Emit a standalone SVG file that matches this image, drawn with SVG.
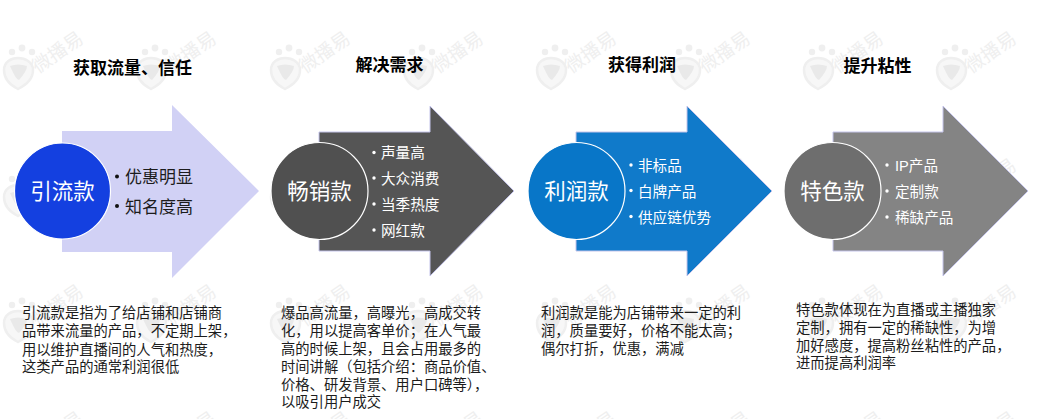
<svg xmlns="http://www.w3.org/2000/svg" width="1040" height="419" viewBox="0 0 1040 419">
<style>
text{font-family:"Liberation Sans","Noto Sans CJK SC",sans-serif}
.h{font-size:17px;font-weight:700;fill:#000;text-anchor:middle}
.c{font-size:21.5px;fill:#fff;text-anchor:middle}
.ln{stroke:#fff;stroke-width:1.2}
.b{font-size:14.3px;fill:#1c1c1c}
.w{font-size:14.6px;fill:#fff}
.k{font-size:17px;fill:#1c1c1c}
.wm{fill:#efefef}
.wt{font-size:19px;fill:#efefef}
.ar{stroke:#c4c4ea;stroke-width:1;fill-opacity:.97}
</style>
<defs>
<g id="mark">
<circle class="wm" cx="12" cy="52" r="3.200"/><circle class="wm" cx="22" cy="48" r="3.400"/><circle class="wm" cx="32" cy="52" r="3.200"/>
<path d="M4 70C4 62 11 58 18 58C25 58 33 62 33 70C33 79 26 85 18 89C10 85 4 79 4 70Z" fill="#f7f7f7" stroke="#efefef" stroke-width="2.500"/>
<path d="M10 66Q18 63 27 66Q27 71 19 80Q16 80 10 66Z" fill="#e9e9e9"/>
<text class="wt" x="38" y="74" transform="rotate(-35 38 74)">微播易</text>
</g>
</defs>
<rect width="1040" height="419" fill="#fff"/>
<g id="watermarks">
<use href="#mark" x="0" y="0"/><use href="#mark" x="133" y="0"/><use href="#mark" x="267" y="0"/><use href="#mark" x="400" y="0"/><use href="#mark" x="533" y="0"/><use href="#mark" x="667" y="0"/><use href="#mark" x="800" y="0"/><use href="#mark" x="933" y="0"/>
<use href="#mark" x="0" y="127"/><use href="#mark" x="133" y="127"/><use href="#mark" x="267" y="127"/><use href="#mark" x="400" y="127"/><use href="#mark" x="533" y="127"/><use href="#mark" x="667" y="127"/><use href="#mark" x="800" y="127"/><use href="#mark" x="933" y="127"/>
<use href="#mark" x="0" y="253"/><use href="#mark" x="133" y="253"/><use href="#mark" x="267" y="253"/><use href="#mark" x="400" y="253"/><use href="#mark" x="533" y="253"/><use href="#mark" x="667" y="253"/><use href="#mark" x="800" y="253"/><use href="#mark" x="933" y="253"/>
<use href="#mark" x="0" y="380"/><use href="#mark" x="133" y="380"/><use href="#mark" x="267" y="380"/><use href="#mark" x="400" y="380"/><use href="#mark" x="533" y="380"/><use href="#mark" x="667" y="380"/><use href="#mark" x="800" y="380"/><use href="#mark" x="933" y="380"/>
</g>
<g id="node-yinliu">
<text class="h" x="132.500" y="74">获取流量、信任</text>
<path d="M62 131H172V105L259 191L172 278V252H62Z" fill="#d1d1f5"/>
<circle class="ln" cx="62.500" cy="191" r="48" fill="#1440e0"/>
<text class="c" x="62.500" y="199">引流款</text>
<circle cx="117" cy="176.500" r="2" fill="#111"/><text class="k" x="125" y="183">优惠明显</text>
<circle cx="117" cy="206" r="2" fill="#111"/><text class="k" x="125" y="213">知名度高</text>
<g class="b"><text x="22" y="318">引流款是指为了给店铺和店铺商</text><text x="22" y="336">品带来流量的产品&#xFF0C;不定期上架&#xFF0C;</text><text x="22" y="355">用以维护直播间的人气和热度&#xFF0C;</text><text x="22" y="372">这类产品的通常利润很低</text></g>
</g>
<g id="node-changxiao">
<text class="h" x="389.500" y="71">解决需求</text>
<path class="ar" d="M319 132H430V106L514 191L430 276V251H319Z" fill="#505050"/>
<circle class="ln" cx="319.500" cy="191" r="48.500" fill="#505050"/>
<text class="c" x="319.500" y="199">畅销款</text>
<circle cx="374" cy="152.500" r="1.700" fill="#fff"/><text class="w" x="381" y="158">声量高</text>
<circle cx="374" cy="178" r="1.700" fill="#fff"/><text class="w" x="381" y="184">大众消费</text>
<circle cx="374" cy="204" r="1.700" fill="#fff"/><text class="w" x="381" y="210">当季热度</text>
<circle cx="374" cy="230" r="1.700" fill="#fff"/><text class="w" x="381" y="236">网红款</text>
<g class="b"><text x="281" y="318">爆品高流量&#xFF0C;高曝光&#xFF0C;高成交转</text><text x="281" y="336">化&#xFF0C;用以提高客单价&#xFF1B;在人气最</text><text x="281" y="354">高的时候上架&#xFF0C;且会占用最多的</text><text x="281" y="372">时间讲解&#xFF08;包括介绍&#xFF1A;商品价值、</text><text x="281" y="390">价格、研发背景、用户口碑等&#xFF09;&#xFF0C;</text><text x="281" y="407">以吸引用户成交</text></g>
</g>
<g id="node-lirun">
<text class="h" x="642" y="71">获得利润</text>
<path class="ar" d="M576 132H687V106L772 191L687 276V251H576Z" fill="#0876c8"/>
<circle class="ln" cx="576.500" cy="191" r="48.500" fill="#0876c8"/>
<text class="c" x="576.500" y="199">利润款</text>
<circle cx="631" cy="165" r="1.700" fill="#fff"/><text class="w" x="638" y="171">非标品</text>
<circle cx="631" cy="190.500" r="1.700" fill="#fff"/><text class="w" x="638" y="197">白牌产品</text>
<circle cx="631" cy="216.500" r="1.700" fill="#fff"/><text class="w" x="638" y="223">供应链优势</text>
<g class="b"><text x="541" y="318">利润款是能为店铺带来一定的利</text><text x="541" y="336">润&#xFF0C;质量要好&#xFF0C;价格不能太高&#xFF1B;</text><text x="541" y="354">偶尔打折&#xFF0C;优惠&#xFF0C;满减</text></g>
</g>
<g id="node-tese">
<text class="h" x="877.500" y="72">提升粘性</text>
<path class="ar" d="M833 132H943V106L1028 191L943 276V251H833Z" fill="#808080"/>
<circle class="ln" cx="832.500" cy="191" r="48.500" fill="#6e6e6e"/>
<text class="c" x="832.500" y="199">特色款</text>
<circle cx="887" cy="165" r="1.700" fill="#fff"/><text class="w" x="895" y="171">IP产品</text>
<circle cx="887" cy="191" r="1.700" fill="#fff"/><text class="w" x="895" y="197">定制款</text>
<circle cx="887" cy="217" r="1.700" fill="#fff"/><text class="w" x="895" y="223">稀缺产品</text>
<g class="b"><text x="796" y="315">特色款体现在为直播或主播独家</text><text x="796" y="333">定制&#xFF0C;拥有一定的稀缺性&#xFF0C;为增</text><text x="796" y="351">加好感度&#xFF0C;提高粉丝粘性的产品&#xFF0C;</text><text x="796" y="368">进而提高利润率</text></g>
</g>
<g id="connectors"></g>
</svg>
